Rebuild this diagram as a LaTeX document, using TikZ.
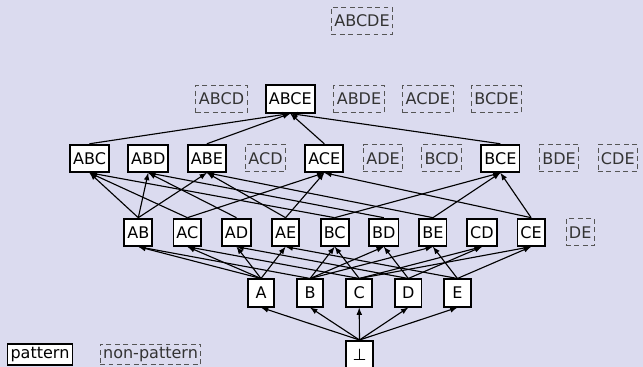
\documentclass[tikz,border=0pt]{standalone}
\usepackage{fontspec}
\setmainfont{DejaVu Sans}
\usetikzlibrary{arrows}

\definecolor{slidebg}{RGB}{219,219,239}
\definecolor{dashgray}{RGB}{85,85,85}

\tikzset{
	pat/.style={
		draw=black,
		fill=white,
		line width=1.3pt,
		inner sep=0.075cm,
		minimum width=0.66cm,
		minimum height=0.68cm
	},
	nonpat/.style={
		draw=dashgray,
		dash pattern=on 3.5pt off 2.5pt,
		line width=0.6pt,
		text=black!80,
		inner sep=0.075cm,
		minimum width=0.66cm,
		minimum height=0.68cm
	},
	sub/.style={
		-latex,
		line width=0.8pt
	}
}

\begin{document}
\begin{tikzpicture}[
	x=0.025cm,
	y=-0.025cm,
	font=\fontsize{11.4}{13.7}\selectfont
]
	\fill[slidebg] (0,0) rectangle (643,367);
	\useasboundingbox (0,0) rectangle (643,367);

	% top element
	\node[nonpat] (ABCDE) at (362,21) {ABCDE};

	% four items
	\node[nonpat] (ABCD) at (221.5,99) {ABCD};
	\node[pat] (ABCE) at (290.3,99) {ABCE};
	\node[nonpat] (ABDE) at (359,99) {ABDE};
	\node[nonpat] (ACDE) at (427.8,99) {ACDE};
	\node[nonpat] (BCDE) at (496.5,99) {BCDE};

	% three items
	\node[pat] (ABC) at (89.5,158.3) {ABC};
	\node[pat] (ABD) at (148.2,158.3) {ABD};
	\node[pat] (ABE) at (206.9,158.3) {ABE};
	\node[nonpat] (ACD) at (265.6,158.3) {ACD};
	\node[pat] (ACE) at (324.3,158.3) {ACE};
	\node[nonpat] (ADE) at (383,158.3) {ADE};
	\node[nonpat] (BCD) at (441.7,158.3) {BCD};
	\node[pat] (BCE) at (500.4,158.3) {BCE};
	\node[nonpat] (BDE) at (559.1,158.3) {BDE};
	\node[nonpat] (CDE) at (617.8,158.3) {CDE};

	% two items
	\node[pat] (AB) at (138.3,232.2) {AB};
	\node[pat] (AC) at (187.4,232.2) {AC};
	\node[pat] (AD) at (236.5,232.2) {AD};
	\node[pat] (AE) at (285.6,232.2) {AE};
	\node[pat] (BC) at (334.7,232.2) {BC};
	\node[pat] (BD) at (383.8,232.2) {BD};
	\node[pat] (BE) at (432.9,232.2) {BE};
	\node[pat] (CD) at (482,232.2) {CD};
	\node[pat] (CE) at (531.1,232.2) {CE};
	\node[nonpat] (DE) at (580.2,232.2) {DE};

	% single items
	\node[pat] (A) at (261,293) {A};
	\node[pat] (B) at (310.1,293) {B};
	\node[pat] (C) at (359.2,293) {C};
	\node[pat] (D) at (408.3,293) {D};
	\node[pat] (E) at (457.4,293) {E};

	% empty set
	\node[pat] (bot) at (359.5,354.5) {⊥};

	% legend
	\node[pat, minimum width=0pt, minimum height=0pt] (patkey) at (40,354.5) {pattern};
	\node[nonpat, minimum width=0pt, minimum height=0pt] (nonpatkey) at (150.5,354.5) {non-pattern};

	% bottom to singles
	\draw[sub] (bot.north) -- (A.south);
	\draw[sub] (bot.north) -- (B.south);
	\draw[sub] (bot.north) -- (C.south);
	\draw[sub] (bot.north) -- (D.south);
	\draw[sub] (bot.north) -- (E.south);

	% singles to pairs
	\draw[sub] (A.north) -- (AB.south);
	\draw[sub] (A.north) -- (AC.south);
	\draw[sub] (A.north) -- (AD.south);
	\draw[sub] (A.north) -- (AE.south);
	\draw[sub] (B.north) -- (AB.south);
	\draw[sub] (B.north) -- (BC.south);
	\draw[sub] (B.north) -- (BD.south);
	\draw[sub] (B.north) -- (BE.south);
	\draw[sub] (C.north) -- (AC.south);
	\draw[sub] (C.north) -- (BC.south);
	\draw[sub] (C.north) -- (CD.south);
	\draw[sub] (C.north) -- (CE.south);
	\draw[sub] (D.north) -- (AD.south);
	\draw[sub] (D.north) -- (BD.south);
	\draw[sub] (D.north) -- (CD.south);
	\draw[sub] (E.north) -- (AE.south);
	\draw[sub] (E.north) -- (BE.south);
	\draw[sub] (E.north) -- (CE.south);

	% pairs to triples
	\draw[sub] (AB.north) -- (ABC.south);
	\draw[sub] (AB.north) -- (ABD.south);
	\draw[sub] (AB.north) -- (ABE.south);
	\draw[sub] (AC.north) -- (ABC.south);
	\draw[sub] (AC.north) -- (ACE.south);
	\draw[sub] (AD.north) -- (ABD.south);
	\draw[sub] (AE.north) -- (ABE.south);
	\draw[sub] (AE.north) -- (ACE.south);
	\draw[sub] (BC.north) -- (ABC.south);
	\draw[sub] (BC.north) -- (BCE.south);
	\draw[sub] (BD.north) -- (ABD.south);
	\draw[sub] (BE.north) -- (ABE.south);
	\draw[sub] (BE.north) -- (BCE.south);
	\draw[sub] (CE.north) -- (ACE.south);
	\draw[sub] (CE.north) -- (BCE.south);

	% triples to ABCE
	\draw[sub] (ABC.north) -- (ABCE.south);
	\draw[sub] (ABE.north) -- (ABCE.south);
	\draw[sub] (ACE.north) -- (ABCE.south);
	\draw[sub] (BCE.north) -- (ABCE.south);
\end{tikzpicture}
\end{document}
